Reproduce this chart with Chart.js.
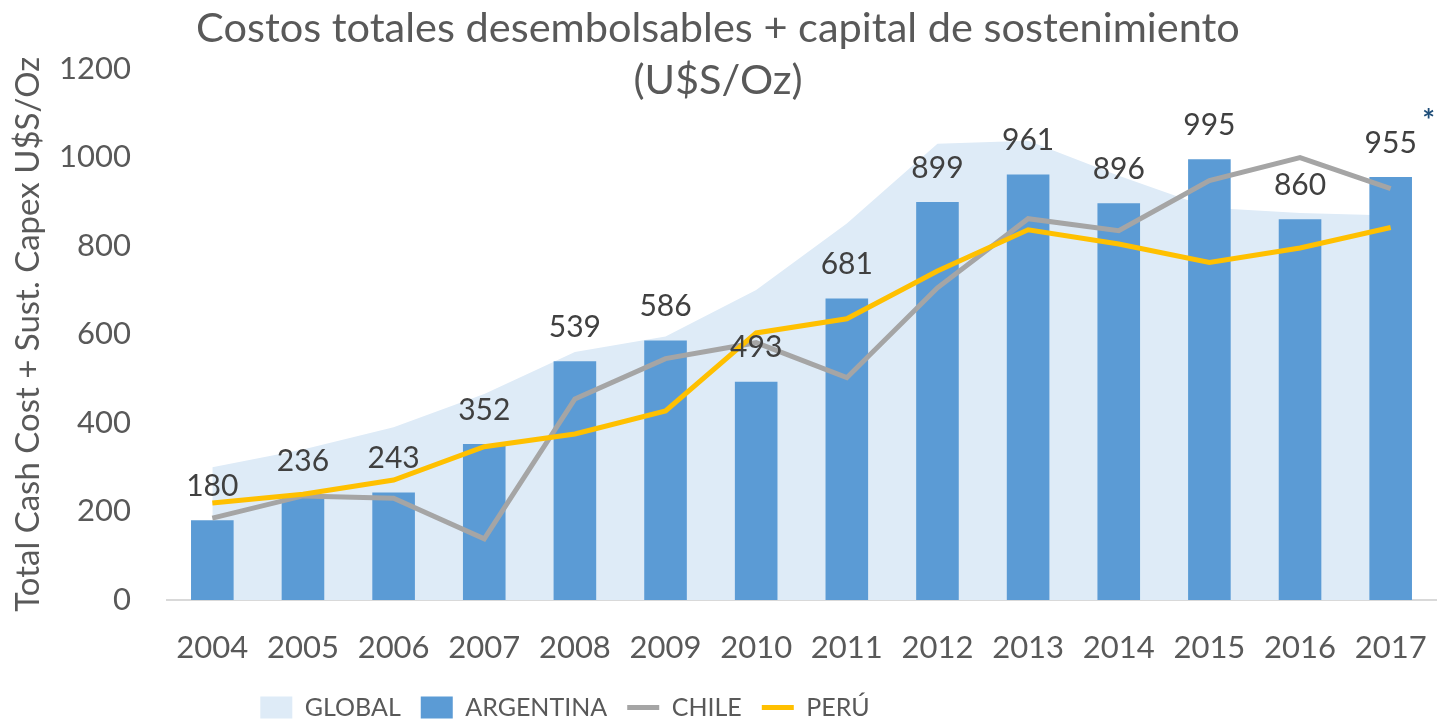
<!DOCTYPE html>
<html>
<head>
<meta charset="utf-8">
<script src="https://cdn.jsdelivr.net/npm/chart.js@4/dist/chart.umd.min.js"></script>
<style>
  body { margin: 0; background: #fff; }
  #wrap { width: 1437px; height: 720px; }
</style>
</head>
<body>
<div id="wrap"><canvas id="chart" width="1437" height="720"></canvas></div>
<script>
const years = ['2004', '2005', '2006', '2007', '2008', '2009', '2010', '2011', '2012', '2013', '2014', '2015', '2016', '2017'];
const global = [300, 340, 390, 465, 560, 595, 700, 850, 1030, 1037, 958, 886, 874, 868];
const argentina = [180, 236, 243, 352, 539, 586, 493, 681, 899, 961, 896, 995, 860, 955];
const chile = [185, 235, 230, 138, 454, 545, 581, 502, 705, 861, 834, 947, 999, 929];
const peru = [219, 239, 271, 346, 375, 427, 603, 635, 743, 836, 804, 762, 795, 841];
const yTicks = [0, 200, 400, 600, 800, 1000, 1200];

const FONT = 'Lato, "Open Sans", sans-serif';

// values over the Argentina bars + the asterisk on 2017
const barLabels = {
    id: 'barLabels',
    afterDatasetsDraw(chart) {
        const ctx = chart.ctx;
        const meta = chart.getDatasetMeta(1);
        ctx.save();
        ctx.font = '30px ' + FONT;
        ctx.fillStyle = '#404040';
        ctx.textAlign = 'center';
        ctx.textBaseline = 'middle';
        meta.data.forEach((bar, i) => {
            ctx.fillText(argentina[i], bar.x, bar.y - 34);
        });
        const last = meta.data[meta.data.length - 1];
        ctx.fillStyle = '#1F4E79';
        ctx.font = 'bold 30px ' + FONT;
        ctx.fillText('*', last.x + 38, last.y - 56);
        ctx.restore();
    }
};

// legend in the original sits left of centre
const legendShift = {
    id: 'legendShift',
    afterLayout(chart) {
        chart.legend.left -= 153;
        chart.legend.right -= 153;
    }
};

new Chart(document.getElementById('chart'), {
    type: 'bar',
    data: {
        labels: years,
        datasets: [{
            type: 'line',
            label: 'GLOBAL',
            data: global,
            backgroundColor: '#DEEBF7',
            borderWidth: 0,
            pointRadius: 0,
            fill: 'origin',
            tension: 0,
            order: 4
        }, {
            label: 'ARGENTINA',
            data: argentina,
            backgroundColor: '#5B9BD5',
            borderWidth: 0,
            barPercentage: 0.94,
            categoryPercentage: 0.5,
            order: 3
        }, {
            type: 'line',
            label: 'CHILE',
            data: chile,
            borderColor: '#A5A5A5',
            backgroundColor: '#A5A5A5',
            borderWidth: 5,
            pointRadius: 0,
            fill: false,
            tension: 0,
            order: 2
        }, {
            type: 'line',
            label: 'PERÚ',
            data: peru,
            borderColor: '#FFC000',
            backgroundColor: '#FFC000',
            borderWidth: 5,
            pointRadius: 0,
            fill: false,
            tension: 0,
            order: 1
        }]
    },
    options: {
        responsive: false,
        animation: false,
        layout: { padding: { left: 0, right: 1, top: 0, bottom: -10 } },
        plugins: {
            title: {
                display: true,
                text: ['Costos totales desembolsables + capital de sostenimiento', '(U$S/Oz)'],
                color: '#595959',
                font: { family: FONT, size: 41.5, weight: 'normal', lineHeight: 1.26 },
                padding: { top: 2, bottom: -38 }
            },
            legend: {
                position: 'bottom',
                labels: {
                    color: '#595959',
                    font: { family: FONT, size: 25 },
                    usePointStyle: true,
                    pointStyleWidth: 32,
                    boxHeight: 22,
                    padding: 20,
                    generateLabels(chart) {
                        const items = Chart.defaults.plugins.legend.labels.generateLabels(chart);
                        items.sort((a, b) => a.datasetIndex - b.datasetIndex);
                        items.forEach(it => {
                            const i = it.datasetIndex;
                            it.pointStyle = i < 2 ? 'rect' : 'line';
                            if (i < 2) it.lineWidth = 0;
                        });
                        return items;
                    }
                }
            },
            tooltip: { enabled: false }
        },
        scales: {
            x: {
                grid: { display: false, drawTicks: false },
                border: { display: true, color: '#D9D9D9', width: 2 },
                ticks: { color: '#595959', font: { family: FONT, size: 31, lineHeight: 2.58 }, padding: 8, maxRotation: 0 },
                afterFit(scale) { scale.height = 75; }
            },
            y: {
                min: 0,
                max: 1200,
                afterBuildTicks(scale) {
                    scale.ticks = yTicks.map(v => ({ value: v }));
                },
                grid: { display: false, drawTicks: false },
                border: { display: false },
                ticks: {
                    color: '#595959',
                    font: { family: FONT, size: 31 },
                    padding: 36,
                    callback: v => String(v)
                },
                title: {
                    display: true,
                    text: 'Total Cash Cost + Sust. Capex U$S/Oz',
                    color: '#595959',
                    font: { family: FONT, size: 33 },
                    padding: 9
                },
                afterFit(scale) { scale.width = 167; }
            }
        }
    },
    plugins: [barLabels, legendShift]
});
</script>
</body>
</html>
